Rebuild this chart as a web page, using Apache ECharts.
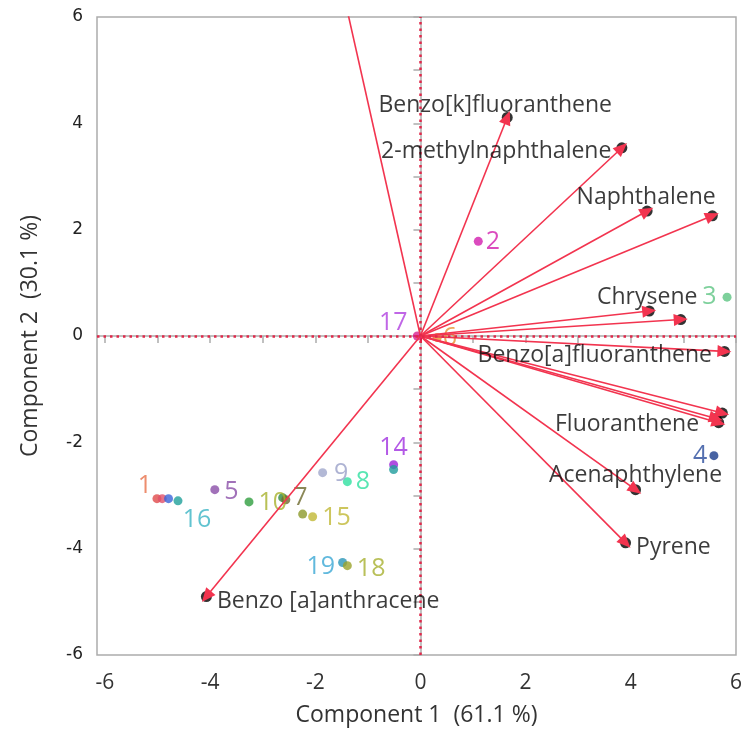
<!DOCTYPE html>
<html>
<head>
<meta charset="utf-8">
<script src="https://cdn.jsdelivr.net/npm/echarts@6/dist/echarts.min.js"></script>
<style>
  html, body { margin: 0; padding: 0; background: #ffffff; }
  #chart { width: 745px; height: 737px; }
</style>
</head>
<body>
<div id="chart"></div>
<script>
// Biplot of the first two principal components.

// Axis ticks
const xMajorTicks = [-6, -4, -2, 0, 2, 4, 6];
const xMinorTicks = [-6, -5, -4, -3, -2, -1, 0, 1, 2, 3, 4, 5, 6];
const yMajorTicks = [-6, -4, -2, 0, 2, 4, 6];
const yMinorTicks = [-6, -5, -4, -3, -2, -1, 0, 1, 2, 3, 4, 5, 6];

// Loading vectors (variables); empty names are arrows whose label is not shown
const loadingNames = ['', 'Benzo[k]fluoranthene', '2-methylnaphthalene', 'Naphthalene', '',
  'Chrysene', '', 'Benzo[a]fluoranthene', 'Fluoranthene', '', '',
  'Acenaphthylene', 'Pyrene', 'Benzo [a]anthracene'];
const loadingX = [-1.50, 1.65, 3.83, 4.31, 5.55, 4.35, 4.95, 5.78, 5.67, 5.74, 5.62, 4.09, 3.90, -4.07];
const loadingY = [6.60, 4.11, 3.54, 2.35, 2.26, 0.47, 0.31, -0.29, -1.63, -1.45, -1.55, -2.89, -3.89, -4.90];

// Scores (observations); empty labels are points whose number is hidden
const obsLabels = ['1', '', '', '16', '5', '10', '', '7', '', '15', '9', '8',
  '14', '', '19', '18', '2', '3', '4', '6', '17'];
const obsX = [-5.01, -4.91, -4.79, -4.61, -3.91, -3.26, -2.62, -2.56, -2.24, -2.05, -1.86, -1.39,
  -0.51, -0.51, -1.48, -1.39, 1.10, 5.83, 5.58, 0.32, -0.06];
const obsY = [-3.06, -3.06, -3.06, -3.10, -2.89, -3.12, -3.04, -3.08, -3.35, -3.40, -2.57, -2.74,
  -2.42, -2.51, -4.26, -4.32, 1.78, 0.73, -2.25, -0.03, 0.00];

// Styling
const obsDotColors = ['#e04a4a', '#e0506a', '#3a64d8', '#1fa09a', '#8a4ea8', '#2f9e3e', '#2f8a40', '#6e6a2e',
  '#8c9a2a', '#c0b834', '#a0a8cc', '#2fe0a0', '#9a22d8', '#1f9c9c', '#2a96b8', '#9aa22a',
  '#d21eae', '#5cc482', '#1a3c8c', '#e89030', '#d8208e'];
const obsLabelColors = ['#e8704a', '', '', '#3ab4c4', '#8a4ea8', '#a8b22c', '', '#6e6a2e', '',
  '#c0b834', '#9aa0c8', '#2fe0a0', '#a030e0', '', '#3aa8d4', '#a8b030', '#d21eae', '#5cc482',
  '#2a4c9c', '#e89030', '#b040e0'];
// [position, offsetX, offsetY] for the score labels
const obsLabelPlace = [['inside', -12, -13], null, null, ['inside', 19, 19], ['right', 0, 2], ['right', 0, 1],
  null, ['right', -2, -2], null, ['right', 0, 1], ['right', 2, 1], ['right', -1, 0],
  ['top', 0, 5], null, ['left', 2, 4], ['right', 0, 3], ['right', -2, 1], ['left', -1, 0],
  ['left', 3, 0], ['right', -4, 0], ['inside', -24, -13]];
// [position, offsetX, offsetY] for the loading labels
const loadingLabelPlace = [null, ['top', -12, 10], ['left', 0, 4], ['top', -1, 8], null,
  ['top', -2, 8], null, ['left', -2, 4], ['left', -9, 2], null, null,
  ['top', 0, 8], ['right', 0, 5], ['right', 0, 5]];

const textFont = '"Segoe UI", "Open Sans", "Noto Sans", sans-serif';
const arrowRed = '#f2344f';
const axisGray = '#acacac';

const chart = echarts.init(document.getElementById('chart'), null, { renderer: 'canvas' });

const arrowData = loadingX.map((x, i) => ({ coords: [[0, 0], [x, loadingY[i]]] }));
const tipData = loadingX.map((x, i) => [x, loadingY[i]]);
const tipLabelData = loadingX.map((x, i) => {
  const p = loadingLabelPlace[i];
  return {
    value: [x, loadingY[i]],
    label: p ? { show: true, formatter: loadingNames[i], position: p[0], offset: [p[1], p[2]] } : { show: false }
  };
});
const obsData = obsX.map((x, i) => {
  const p = obsLabelPlace[i];
  return {
    value: [x, obsY[i]],
    itemStyle: { color: obsDotColors[i] },
    label: p ? {
      show: true, formatter: obsLabels[i], position: p[0], offset: [p[1], p[2]],
      color: obsLabelColors[i]
    } : { show: false }
  };
});

const baseX = {
  type: 'value', min: -6.15, max: 6, gridIndex: 0,
  splitLine: { show: false }
};
const baseY = {
  type: 'value', min: -6, max: 6, gridIndex: 0,
  splitLine: { show: false }
};

chart.setOption({
  animation: false,
  backgroundColor: '#ffffff',
  grid: {
    left: 97, right: 8, top: 17, bottom: 82,
    show: true, borderColor: axisGray, borderWidth: 1.5, backgroundColor: '#ffffff'
  },
  xAxis: [
    Object.assign({}, baseX, {
      position: 'bottom',
      name: 'Component 1  (61.1 %)', nameLocation: 'middle', nameGap: 49,
      nameTextStyle: { fontFamily: textFont, fontSize: 23, color: '#333333' },
      axisLine: { show: true, lineStyle: { color: axisGray, width: 1.5 } },
      axisTick: { show: true, length: 7, inside: false, customValues: xMinorTicks,
        lineStyle: { color: axisGray, width: 1.5 } },
      axisLabel: { show: true, customValues: xMajorTicks, margin: 18,
        fontFamily: textFont, fontSize: 21, color: '#333333' }
    }),
    Object.assign({}, baseX, {
      position: 'bottom',
      axisLine: { show: false },
      axisTick: { show: true, length: 7, customValues: [0], lineStyle: { color: '#e02040', width: 2 } },
      axisLabel: { show: false }
    })
  ],
  yAxis: [
    Object.assign({}, baseY, {
      position: 'left',
      name: 'Component 2  (30.1 %)', nameLocation: 'middle', nameGap: 55,
      nameTextStyle: { fontFamily: textFont, fontSize: 23, color: '#333333' },
      axisLine: { show: true, lineStyle: { color: axisGray, width: 1.5 } },
      axisTick: { show: true, length: 7, inside: false, customValues: yMinorTicks,
        lineStyle: { color: axisGray, width: 1.5 } },
      axisLabel: { show: true, customValues: yMajorTicks, margin: 14,
        fontFamily: '"DejaVu Sans", sans-serif', fontSize: 17, color: '#222222' }
    }),
    Object.assign({}, baseY, {
      position: 'left',
      axisLine: { show: false },
      axisTick: { show: true, length: 7, customValues: [0], lineStyle: { color: '#e02040', width: 2 } },
      axisLabel: { show: false }
    })
  ],
  series: [
    {
      // dotted reference lines through the origin
      type: 'scatter', xAxisIndex: 0, yAxisIndex: 0, data: [], z: 1,
      markLine: {
        silent: true, symbol: ['none', 'none'], animation: false,
        label: { show: false },
        lineStyle: { color: '#e0284a', type: [2.5, 4], width: 2.5 },
        data: [{ xAxis: 0 }, { yAxis: 0 }]
      }
    },
    {
      // observation scores
      type: 'scatter', xAxisIndex: 0, yAxisIndex: 0, z: 2,
      symbol: 'circle', symbolSize: 9,
      label: { fontFamily: textFont, fontSize: 25 },
      data: obsData
    },
    {
      // black markers at the loading vector tips
      type: 'scatter', xAxisIndex: 0, yAxisIndex: 0, z: 3,
      symbol: 'circle', symbolSize: 11,
      itemStyle: { color: '#000000' },
      data: tipData
    },
    {
      // loading vectors
      type: 'lines', coordinateSystem: 'cartesian2d', xAxisIndex: 0, yAxisIndex: 0, z: 4,
      clip: true,
      polyline: false,
      symbol: ['none', 'triangle'],
      symbolSize: [4, [12, 14]],
      lineStyle: { color: arrowRed, width: 1.6, opacity: 1 },
      data: arrowData
    },
    {
      // loading labels, drawn above the arrows
      type: 'scatter', xAxisIndex: 0, yAxisIndex: 0, z: 5,
      symbolSize: 11, itemStyle: { color: 'rgba(0,0,0,0)' },
      label: { fontFamily: textFont, fontSize: 23, color: '#0a0a0a' },
      data: tipLabelData
    }
  ]
});
</script>
</body>
</html>
